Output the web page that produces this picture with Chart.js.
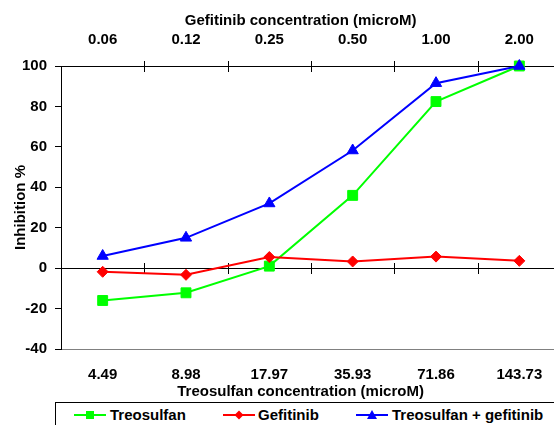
<!DOCTYPE html>
<html>
<head>
<meta charset="utf-8">
<script src="https://cdn.jsdelivr.net/npm/chart.js@4"></script>
<style>
  html, body { margin: 0; padding: 0; background: #fff; overflow: hidden; }
  #wrap { position: relative; width: 554px; height: 425px; overflow: hidden; }
  #chart { position: absolute; left: 0; top: 0; }
  #legend { position: absolute; left: 55px; top: 402px; width: 560px; height: 28px; border: 1px solid #000; box-sizing: border-box; }
  #legend svg { position: absolute; top: 5px; }
  #legend span { position: absolute; top: 3px; line-height: 18px; font: bold 15px "Liberation Sans", Arial, sans-serif; color: #000; white-space: nowrap; }
</style>
</head>
<body>
<div id="wrap">
  <canvas id="chart" width="575" height="402"></canvas>
  <div id="legend"></div>
</div>
<script>
// data
const treoConc = ['4.49', '8.98', '17.97', '35.93', '71.86', '143.73'];
const gefConc = ['0.06', '0.12', '0.25', '0.50', '1.00', '2.00'];
const treosulfan = [-16, -12.2, 1, 36, 82.4, 100];
const gefitinib = [-1.8, -3.3, 5.5, 3.3, 5.7, 3.6];
const combinacao = [6, 15, 32, 58.2, 91.5, 100];

const nomes = ['Treosulfan', 'Gefitinib', 'Treosulfan + gefitinib'];
const cores = ['#00ff00', '#ff0000', '#0000ff'];
const marcadores = ['rect', 'rectRot', 'triangle'];

const fonte = { family: '"Liberation Sans", Arial, sans-serif', size: 15, weight: 'bold' };
Chart.defaults.color = '#000';

// tiques que cruzam o eixo de cima e a linha do zero
const tiquesCruzados = {
  id: 'tiquesCruzados',
  beforeDatasetsDraw(chart) {
    const ctx = chart.ctx;
    const x = chart.scales.x;
    const y = chart.scales.y;
    const linhas = [chart.chartArea.top, y.getPixelForValue(0)];
    ctx.save();
    ctx.strokeStyle = '#000';
    ctx.lineWidth = 1;
    for (let i = 0; i < treoConc.length; i++) {
      const px = Math.round((x.getPixelForValue(i) + x.getPixelForValue(i + 1)) / 2) + 0.5;
      linhas.forEach(py => {
        ctx.beginPath();
        ctx.moveTo(px, Math.round(py) - 5);
        ctx.lineTo(px, Math.round(py) + 6);
        ctx.stroke();
      });
    }
    ctx.restore();
  }
};

function serie(i, dados, raio, ordem) {
  return {
    label: nomes[i],
    data: dados,
    borderColor: cores[i],
    backgroundColor: cores[i],
    borderWidth: 2,
    pointStyle: marcadores[i],
    pointRadius: raio,
    pointBorderWidth: 1,
    pointBorderColor: cores[i],
    pointBackgroundColor: cores[i],
    tension: 0,
    clip: false,
    order: ordem
  };
}

const ctx = document.getElementById('chart').getContext('2d');
new Chart(ctx, {
  type: 'line',
  data: {
    labels: treoConc,
    datasets: [
      serie(0, treosulfan, 7, 3),
      serie(1, gefitinib, 5.5, 2),
      serie(2, combinacao, 6.5, 1)
    ]
  },
  options: {
    responsive: false,
    animation: false,
    layout: { padding: { right: 14 } },
    plugins: { legend: { display: false }, tooltip: { enabled: false } },
    scales: {
      x: {
        position: 'bottom',
        offset: true,
        grid: { display: false, drawTicks: false },
        border: { color: '#808080', width: 1 },
        ticks: { font: fonte, padding: 17, maxRotation: 0 },
        title: { display: true, text: 'Treosulfan concentration (microM)\u00a0\u00a0\u00a0\u00a0\u00a0', font: fonte, padding: { top: 0, bottom: 1 } },
        afterFit: s => { s.height = 53; }
      },
      x2: {
        type: 'category',
        labels: gefConc,
        position: 'top',
        offset: true,
        grid: { display: false, drawTicks: false },
        border: { color: '#000', width: 1 },
        ticks: { font: fonte, padding: 17, maxRotation: 0 },
        title: { display: true, text: 'Gefitinib concentration (microM)\u00a0\u00a0\u00a0\u00a0\u00a0', font: fonte, padding: { top: 12, bottom: 0 } },
        afterFit: s => { s.height = 66; }
      },
      y: {
        min: -40,
        max: 100,
        ticks: { stepSize: 20, font: fonte, padding: 8 },
        grid: {
          color: c => (c.tick && c.tick.value === 0) ? '#000' : 'rgba(0,0,0,0)',
          tickColor: '#000',
          tickLength: 6,
          lineWidth: 1
        },
        border: { color: '#000', width: 1 },
        title: { display: true, text: 'Inhibition %', font: fonte, padding: { top: 12, bottom: 0 } },
        afterFit: s => { s.width = 61; }
      }
    }
  },
  plugins: [tiquesCruzados]
});

// legenda em html
const legenda = document.getElementById('legend');
const posLinha = [18, 167, 300];
const posTexto = [54, 202, 336];
const formas = [
  '<rect x="12" y="3" width="8" height="8"/>',
  '<polygon points="16,2.5 20.5,7 16,11.5 11.5,7"/>',
  '<polygon points="16,2 21,11 11,11"/>'
];
nomes.forEach((nome, i) => {
  const svg = document.createElementNS('http://www.w3.org/2000/svg', 'svg');
  svg.setAttribute('width', '32');
  svg.setAttribute('height', '14');
  svg.style.left = posLinha[i] + 'px';
  svg.innerHTML = '<line x1="0" y1="7" x2="32" y2="7" stroke="' + cores[i] + '" stroke-width="2"/>' +
    '<g fill="' + cores[i] + '">' + formas[i] + '</g>';
  legenda.appendChild(svg);
  const span = document.createElement('span');
  span.textContent = nome;
  span.style.left = posTexto[i] + 'px';
  legenda.appendChild(span);
});
</script>
</body>
</html>
